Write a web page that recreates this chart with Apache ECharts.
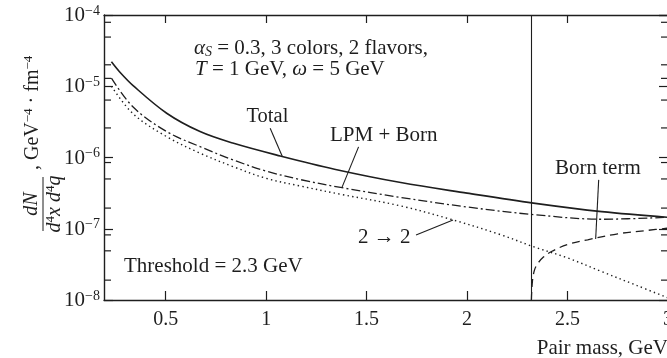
<!DOCTYPE html>
<html><head><meta charset="utf-8">
<script src="https://cdn.jsdelivr.net/npm/echarts@6/dist/echarts.min.js"></script>
<style>html,body{margin:0;padding:0;background:#fff}#c{width:667px;height:358px}</style>
</head><body><div id="c"></div>
<script>
// ---- data ----
const massTotal = [0.23, 0.27, 0.338, 0.505, 0.671, 0.838, 1.07, 1.34, 1.67, 2.0, 2.33, 2.67, 3.0];
const rateTotal = [2.2e-5, 1.6e-5, 1.02e-5, 4.18e-6, 2.31e-6, 1.58e-6, 1.05e-6, 6.85e-7, 4.45e-7, 3.16e-7, 2.29e-7, 1.74e-7, 1.45e-7];

const massLPM = [0.23, 0.338, 0.505, 0.671, 0.838, 1.0, 1.17, 1.37, 1.67, 2.0, 2.33, 2.67, 3.0];
const rateLPM = [1.3e-5, 5.1e-6, 2.31e-6, 1.42e-6, 9.2e-7, 6.45e-7, 4.9e-7, 3.8e-7, 2.75e-7, 2.02e-7, 1.58e-7, 1.36e-7, 1.45e-7];

const mass22 = [0.23, 0.338, 0.505, 0.671, 0.838, 1.0, 1.17, 1.37, 1.67, 1.93, 2.17, 2.33, 2.5, 2.67, 2.84, 3.0];
const rate22 = [1.0e-5, 4.1e-6, 1.96e-6, 1.15e-6, 7.4e-7, 5.1e-7, 3.98e-7, 3.05e-7, 2.09e-7, 1.33e-7, 8.2e-8, 5.6e-8, 3.9e-8, 2.5e-8, 1.62e-8, 1.07e-8];

const massBorn = [2.32, 2.325, 2.335, 2.35, 2.38, 2.42, 2.5, 2.6, 2.75, 2.9, 3.0];
const rateBorn = [1.0e-8, 1.8e-8, 2.6e-8, 3.2e-8, 4.0e-8, 4.8e-8, 6.0e-8, 7.0e-8, 8.5e-8, 9.5e-8, 1.02e-7];

const threshold = 2.32;
const xTicks = [0.5, 1, 1.5, 2, 2.5, 3];
const xTopTicks = [0.5, 1, 1.5, 2, 2.5];
const yMinorTicks = [7.9e-5, 4.9e-5, 2.0e-5, 1.29e-5, 6.4e-6, 2.6e-6, 8.5e-7, 5.0e-7, 1.95e-7, 8.2e-8, 4.9e-8, 1.9e-8];

// leader lines of the annotations, in data coordinates
const leaderTotal = [[1.02, 2.58e-6], [1.08, 1.04e-6]];
const leaderLPM = [[1.46, 1.41e-6], [1.377, 3.78e-7]];
const leaderBorn = [[2.655, 4.85e-7], [2.64, 7.2e-8]];
const leader22 = [[1.746, 8.2e-8], [1.93, 1.33e-7]];

const zip = (a, b) => a.map((v, i) => [v, b[i]]);
const FF = '"Liberation Serif","Times New Roman",serif';
const INK = '#1e1e1e';
const XMIN = 0.193, XMAX = 3;

const chart = echarts.init(document.getElementById('c'));

function leader(p) {
  return [{coord: p[0]}, {coord: p[1]}];
}

function lineSeries(name, x, y, type, width) {
  return {
    name, type: 'line', data: zip(x, y), showSymbol: false, symbol: 'none', smooth: 0.35,
    lineStyle: {color: INK, width, type}, xAxisIndex: 0, yAxisIndex: 0, z: 3
  };
}

const t = (text, x, y, extra, fs) => {
  fs = fs || 21;
  return {
    type: 'text', x, y,
    style: Object.assign({
      text, fill: INK, fontFamily: FF, fontSize: fs, verticalAlign: 'middle',
      rich: {
        i: {fontFamily: FF, fontSize: fs, fontStyle: 'italic', fill: INK},
        sub: {fontFamily: FF, fontSize: 14, fontStyle: 'italic', fill: INK, verticalAlign: 'bottom', padding: [8, 0, 0, 0]},
        sup: {fontFamily: FF, fontSize: 13, fill: INK, verticalAlign: 'top', padding: [0, 0, 8, 0]}
      }
    }, extra || {})
  };
};

const option = {
  animation: false,
  backgroundColor: '#fff',
  grid: {left: 104, right: -1, top: 15, bottom: 58, containLabel: false, outerBoundsMode: 'none'},
  xAxis: [{
    type: 'value', min: XMIN, max: XMAX, position: 'bottom',
    axisLine: {show: true, lineStyle: {color: INK, width: 1.4}},
    axisTick: {show: true, inside: true, length: 9, customValues: xTicks, lineStyle: {color: INK, width: 1.2}},
    axisLabel: {customValues: xTicks, color: INK, fontFamily: FF, fontSize: 20, margin: 10, alignMaxLabel: 'center', alignMinLabel: 'center'},
    splitLine: {show: false}
  }, {
    type: 'value', min: XMIN, max: XMAX, position: 'top',
    axisLine: {show: true, lineStyle: {color: INK, width: 1.4}},
    axisTick: {show: true, inside: true, length: 8, customValues: xTopTicks, lineStyle: {color: INK, width: 1.2}},
    axisLabel: {show: false}, splitLine: {show: false}
  }],
  yAxis: [{
    type: 'log', logBase: 10, min: 1e-8, max: 1e-4, position: 'left',
    axisLine: {show: true, lineStyle: {color: INK, width: 1.4}},
    axisTick: {show: true, inside: true, length: 9, lineStyle: {color: INK, width: 1.2}},
    axisLabel: {
      color: INK, margin: 4,
      formatter: v => '{b|10}{s|−' + Math.abs(Math.round(Math.log10(v))) + '}',
      rich: {
        b: {fontFamily: FF, fontSize: 21, color: INK, verticalAlign: 'bottom', lineHeight: 22},
        s: {fontFamily: FF, fontSize: 14, color: INK, verticalAlign: 'top', lineHeight: 22}
      }
    },
    splitLine: {show: false}
  }, {
    type: 'log', logBase: 10, min: 1e-8, max: 1e-4, position: 'right',
    axisLine: {show: true, lineStyle: {color: INK, width: 1.4}},
    axisTick: {show: true, inside: true, length: 9, lineStyle: {color: INK, width: 1.2}},
    axisLabel: {show: false}, splitLine: {show: false}
  }],
  series: [
    Object.assign(lineSeries('Total', massTotal, rateTotal, 'solid', 1.6), {
      markLine: {
        silent: true, symbol: 'none', label: {show: false},
        lineStyle: {color: INK, width: 1.1, type: 'solid'},
        data: [
          [{coord: [threshold, 1e-8]}, {coord: [threshold, 1e-4]}],
          leader(leaderTotal), leader(leaderLPM), leader(leaderBorn), leader(leader22)
        ]
      }
    }),
    lineSeries('LPM + Born', massLPM, rateLPM, [9, 3, 2, 3], 1.3),
    lineSeries('2 → 2', mass22, rate22, [1.4, 3.2], 1.4),
    lineSeries('Born term', massBorn, rateBorn, [8, 5], 1.3),
    {
      type: 'custom', name: 'minor ticks', silent: true, clip: false, z: 4,
      data: yMinorTicks.map(v => [XMIN, v]),
      renderItem: (params, api) => {
        const v = api.value(1);
        const a = api.coord([XMIN, v]);
        const b = api.coord([XMAX, v]);
        return {
          type: 'group', children: [
            {type: 'line', shape: {x1: a[0], y1: a[1], x2: a[0] + 7, y2: a[1]}, style: {stroke: INK, lineWidth: 1.2}},
            {type: 'line', shape: {x1: b[0], y1: b[1], x2: b[0] - 7, y2: b[1]}, style: {stroke: INK, lineWidth: 1.2}}
          ]
        };
      }
    }
  ],
  graphic: [
    t('{i|α}{sub|S} = 0.3, 3 colors, 2 flavors,', 194, 48),
    t('{i|T} = 1 GeV, {i|ω} = 5 GeV', 195, 69),
    t('Total', 246.5, 117, null, 20.5),
    t('LPM + Born', 330, 135),
    t('Born term', 555, 168),
    t('2 → 2', 358, 237),
    t('Threshold = 2.3 GeV', 124, 266),
    t('Pair mass, GeV', 668, 348, {align: 'right'}),
    {
      type: 'group', x: 43, y: 204, rotation: Math.PI / 2,
      children: [
        {type: 'line', shape: {x1: -27, y1: 0, x2: 27, y2: 0}, style: {stroke: INK, lineWidth: 1}},
        t('{i|dN}', 0, -1, {align: 'center', verticalAlign: 'bottom'}, 20),
        t('{i|d}{sup|4}{i|x d}{sup|4}{i|q}', 0, 1, {align: 'center', verticalAlign: 'top'}, 20),
        t(', GeV{sup|−4} · fm{sup|−4}', 34, 0, {align: 'left', verticalAlign: 'bottom'}, 20)
      ]
    }
  ]
};
chart.setOption(option);
</script></body></html>
